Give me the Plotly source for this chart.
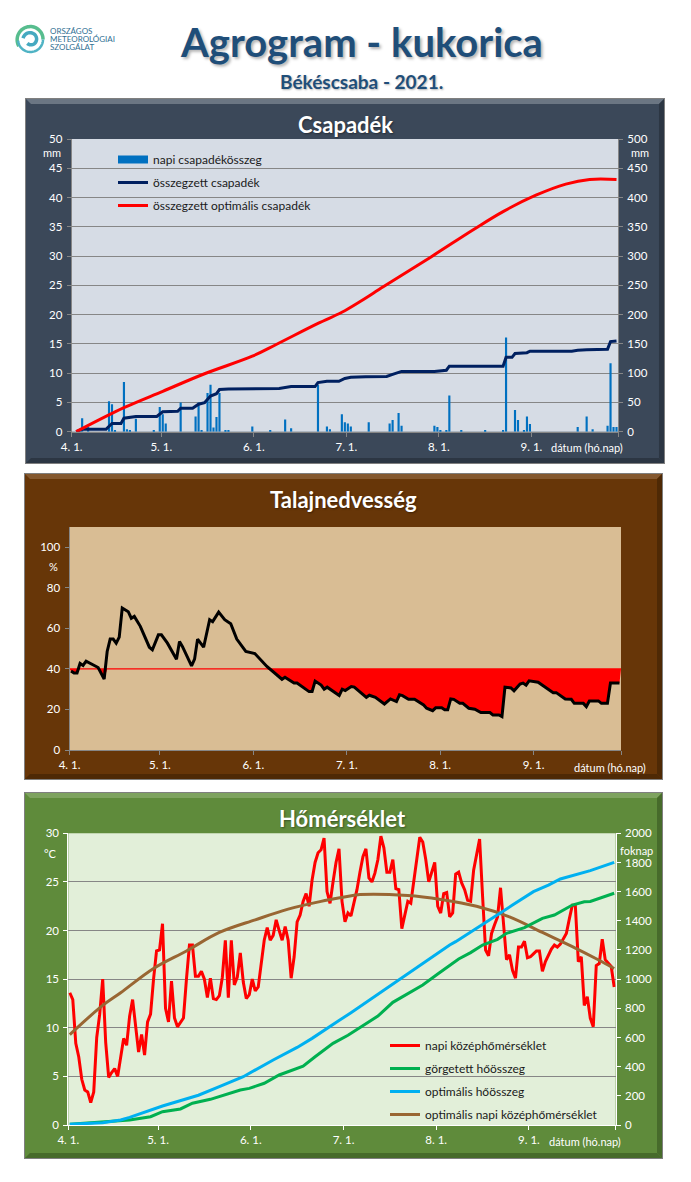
import numpy as np
import plotly.graph_objects as go

W, H = 691, 1182

# csapadek
rain_days = [3, 5, 12, 13, 14, 17, 18, 19, 21, 27, 29, 30, 31, 36, 41, 42, 43, 45, 46, 47, 48, 49, 51, 52, 60, 66,
             71, 73, 82, 85, 86, 90, 91, 92, 93, 99, 106, 107, 109, 110, 121, 122, 123, 125, 126, 130, 138, 144,
             145, 148, 149, 151, 152, 153, 169, 172, 174, 179, 180, 181, 182]
rain_vals = [2.3, 0.8, 5.2, 4.7, 0.2, 8.5, 0.4, 0.2, 2.2, 0.2, 4.2, 3.0, 1.4, 5.0, 2.6, 5.0, 0.2, 6.6, 8.0, 0.7, 2.5, 6.6, 0.2, 0.2, 0.9, 0.2,
             2.1, 0.6, 8.0, 0.9, 0.4, 3.0, 1.6, 1.4, 0.9, 1.6, 1.4, 2.0, 3.2, 1.0, 1.0, 0.8, 0.2, 0.2, 6.2, 0.2, 0.2, 0.2,
             16.1, 3.7, 2.0, 0.2, 2.6, 1.3, 0.8, 2.6, 0.4, 1.0, 11.7, 0.8, 0.8]
sum_days = [1, 3, 11, 13, 16, 17, 21, 28, 30, 35, 36, 40, 42, 44, 46, 48, 49, 52, 69, 73, 81, 82, 85, 89, 91, 93,
            98, 105, 107, 110, 121, 125, 126, 144, 145, 147, 148, 152, 153, 167, 169, 172, 179, 180, 182]
sum_vals = [0, 4, 4, 14, 14, 23, 26, 26, 34, 35, 40, 40, 47, 49.5, 61, 65, 72, 73, 74, 77, 77, 84, 86, 86, 91, 93,
            94, 94.5, 98, 103, 103, 105, 112, 112, 127, 127, 133.5, 135, 137.5, 137.5, 139, 140, 141, 154, 155]
opt_days = [1, 17, 30, 44, 60, 68, 82, 90, 96, 104, 120, 134, 144, 155, 165, 173, 182]
opt_vals = [0, 41, 69, 99, 129, 149, 185, 204, 222, 248, 299, 345, 376, 404, 423, 431, 431]

# talajnedvesseg
soil_days = [0, 1, 2, 3, 4, 5, 9, 11, 12, 13, 14, 15, 16, 17, 19, 20, 21, 23, 26, 27, 29, 30, 32, 35, 36, 37, 40, 41, 42, 44,
             46, 47, 49, 51, 53, 55, 58, 61, 65, 67, 70, 71, 74, 75, 79, 80, 81, 83, 84, 85, 89, 90, 91, 93, 94, 98, 99,
             101, 104, 106, 108, 109, 110, 112, 114, 117, 118, 120, 121, 123, 124, 125, 126, 127, 129, 130, 132, 134,
             136, 139, 140, 142, 143, 144, 146, 147, 149, 150, 151, 152, 155, 160, 161, 164, 166, 167, 170, 171, 172,
             175, 176, 178, 179, 182]
soil_vals = [39, 38, 38, 42.7, 41.7, 43.8, 40.7, 35, 48.6, 54.7, 54.7, 52.7, 55.7, 70, 68.2, 65, 65.9, 61, 50.7, 49.4, 56.8, 56.8, 52.7, 44.8, 53.5, 51, 41.5, 44.8, 54.7, 50.7,
             64.3, 63.3, 68, 64.3, 62.3, 54.7, 48.6, 47.6, 41.2, 38.6, 34.9, 35.9, 33, 33, 28.8, 28.8, 34, 32, 30, 31, 26.9, 30, 29.3, 31.3, 31, 26, 27,
             26, 22.7, 25.2, 23.9, 27.2, 26.8, 25, 25, 22.2, 20.6, 19.4, 20.8, 20.8, 19.8, 19.8, 25.2, 25, 23, 23, 20.6, 20.1,
             18.5, 18.5, 17.3, 17.3, 16.5, 31, 30.6, 29.2, 32.5, 33, 32, 34.1, 33.4, 28.3, 28.3, 25.2, 25, 23, 23, 21.4, 24.2,
             24.2, 23, 23, 33, 33]
soil_limit = 40

# homerseklet, napi ertekek
temp_vals = [13.6, 12.9, 8.4, 7.0, 4.7, 3.6, 3.4, 2.3, 3.4, 9.0,
             11.4, 15.0, 8.5, 4.9, 5.4, 5.8, 5.0, 7.0, 8.9, 8.2,
             11.2, 12.9, 10.0, 7.5, 9.3, 7.2, 10.6, 11.4, 15.0, 17.9,
             18.0, 20.7, 12.0, 10.6, 14.8, 11.0, 10.1, 10.5, 11.0, 15.0,
             18.5, 18.5, 15.3, 15.3, 15.8, 15.0, 13.1, 15.1, 13.0, 12.9,
             13.3, 15.2, 19.0, 13.1, 19.0, 14.4, 15.2, 17.7, 14.7, 13.0,
             13.4, 15.0, 13.8, 14.2, 16.8, 19.0, 20.3, 19.0, 19.5, 21.1,
             20.0, 19.0, 20.4, 19.0, 15.1, 17.3, 20.9, 21.6, 23.0, 23.8,
             22.5, 25.2, 27.0, 28.0, 28.3, 29.5, 24.0, 22.8, 25.0, 27.0,
             28.4, 23.0, 20.9, 21.8, 21.5, 22.9, 24.2, 26.0, 27.6, 28.4,
             25.4, 25.0, 25.9, 27.3, 29.7, 28.5, 26.0, 26.0, 27.3, 24.3,
             24.2, 20.2, 21.8, 23.0, 22.8, 24.9, 27.5, 29.6, 29.1, 27.3,
             25.0, 26.0, 27.0, 22.5, 21.8, 23.8, 23.9, 21.4, 21.8, 25.8,
             26.0, 24.9, 24.2, 23.1, 23.0, 26.2, 27.9, 29.4, 23.5, 18.0,
             17.4, 19.7, 20.6, 21.4, 24.4, 20.7, 17.0, 17.5, 15.9, 15.1,
             18.3, 18.3, 18.9, 17.2, 17.3, 17.6, 17.9, 17.9, 15.8, 16.8,
             17.4, 18.1, 18.5, 18.3, 18.6, 19.1, 19.7, 21.2, 22.6, 22.6,
             16.8, 17.3, 12.3, 13.2, 11.0, 10.1, 16.4, 16.6, 19.1, 17.0,
             16.6, 16.3, 14.2]
temp_days = list(range(len(temp_vals)))
gdd_days = [0, 9, 17, 20, 27, 31, 37, 41, 47, 52, 57, 60, 65, 70, 78, 82, 88, 93, 103, 108, 111, 118, 123, 130, 134, 138,
            143, 146, 152, 158, 162, 168, 172, 174, 182]
gdd_vals = [5, 16, 27, 34, 57, 91, 110, 149, 176, 206, 240, 251, 286, 343, 404, 468, 560, 615, 747, 841, 875, 960, 1035, 1138, 1182, 1234,
            1273, 1314, 1353, 1417, 1440, 1508, 1531, 1533, 1589]
optgdd_days = [0, 11, 17, 20, 31, 43, 50, 58, 68, 76, 81, 87, 90, 94, 103, 113, 127, 129, 138, 148, 155, 160, 164, 174, 182]
optgdd_vals = [5, 16, 34, 52, 130, 204, 263, 331, 446, 532, 594, 679, 716, 770, 898, 1035, 1234, 1257, 1378, 1508, 1600, 1645, 1687, 1744, 1801]
opttemp_days = [0, 11, 17, 28, 39, 50, 62, 73, 84, 91, 97, 113, 124, 136, 147, 158, 169, 176, 182]
opttemp_vals = [9.3, 12.3, 13.6, 16.1, 17.9, 19.8, 21.1, 22.2, 23.0, 23.4, 23.7, 23.6, 23.2, 22.5, 21.4, 19.8, 18.2, 17.1, 16.1]

month_ticks = [-0.5, 29.5, 60.5, 91.5, 122.5, 153.5, 182.5]
month_labels = ["4. 1.", "5. 1.", "6. 1.", "7. 1.", "8. 1.", "9. 1.", ""]

FONT = "Lato"
DARKBLUE = "#1f4e79"
GRID = "#868686"


def fx(px):
    return px / W


def fy(py):
    return 1 - py / H


shapes = []
annotations = []


def text(s, x, y, size=11, color="white", anchor="center", shadow=None):
    f = dict(family=FONT, size=size, color=color)
    if shadow:
        f["shadow"] = shadow
    annotations.append(dict(text=s, x=fx(x), y=fy(y), xref="paper", yref="paper", showarrow=False,
                            xanchor=anchor, yanchor="middle", font=f))


def rect(x0, y0, x1, y1, fill):
    shapes.append(dict(type="rect", xref="paper", yref="paper", layer="below", x0=fx(x0), x1=fx(x1), y0=fy(y0), y1=fy(y1),
                       fillcolor=fill, line=dict(width=0)))


def poly(pts, fill):
    d = "M " + " L ".join(f"{fx(a):.5f},{fy(b):.5f}" for a, b in pts) + " Z"
    shapes.append(dict(type="path", path=d, xref="paper", yref="paper", layer="below", fillcolor=fill, line=dict(width=0)))


def panel(x0, y0, x1, y1, fill, light, dark):
    # keretezett panel, domboru szeggel
    b = 5
    rect(x0, y0, x1, y1, "#7f7f7f")
    rect(x0 + 1, y0 + 1, x1 - 1, y1 - 1, fill)
    poly([(x0 + 1, y0 + 1), (x1 - 1, y0 + 1), (x1 - 1 - b, y0 + 1 + b), (x0 + 1 + b, y0 + 1 + b)], light)
    poly([(x1 - 1, y0 + 1), (x1 - 1, y1 - 1), (x1 - 1 - b, y1 - 1 - b), (x1 - 1 - b, y0 + 1 + b)], dark)
    poly([(x0 + 1, y1 - 1), (x1 - 1, y1 - 1), (x1 - 1 - b, y1 - 1 - b), (x0 + 1 + b, y1 - 1 - b)], dark)


def spiral(a0, a1, r0, r1, color, width):
    t = np.radians(np.linspace(a0, a1, 40))
    r = np.linspace(r0, r1, 40)
    xs = 30.5 + r * np.cos(t)
    ys = 39.5 + r * np.sin(t)
    d = "M " + " L ".join(f"{fx(a):.5f},{fy(b):.5f}" for a, b in zip(xs, ys))
    shapes.append(dict(type="path", path=d, xref="paper", yref="paper", layer="below",
                       line=dict(color=color, width=width)))


panel(25, 98, 665, 464, "#3b4859", "#6b7683", "#2c3643")
panel(24, 473, 663, 780, "#673608", "#84582f", "#4e2905")
panel(24, 792, 663, 1159, "#5f8b3b", "#7ea35f", "#476b2b")

# plot hatterek
rect(71.7, 139, 618, 431.7, "#d6dce5")
rect(69.5, 527, 621, 750, "#d9bd94")
rect(68.3, 833.3, 615.7, 1125, "#e2efd9")

# logo
spiral(150, 360, 13.5, 12.5, "#57bd8e", 3.5)
spiral(0, 175, 12.5, 12.5, "#4fb3c4", 2.5)
spiral(-170, 130, 7.5, 5, "#45a9c0", 3.5)
text("ORSZÁGOS", 47.5, 31.5, 8, "#2f6f93", "left")
text("METEOROLÓGIAI", 47.5, 39.5, 8, "#2f6f93", "left")
text("SZOLGÁLAT", 47.5, 47.5, 8, "#2f6f93", "left")

text("<b>Agrogram - kukorica</b>", 362, 42, 40, DARKBLUE, shadow="2px 2px 3px rgba(0,0,0,0.3)")
text("<b>Békéscsaba - 2021.</b>", 362, 81, 19, DARKBLUE, shadow="1px 1px 2px rgba(0,0,0,0.3)")

text("<b>Csapadék</b>", 345, 124, 22, shadow="1px 1px 2px rgba(0,0,0,0.4)")
text("mm", 52, 152)
text("mm", 640, 152)
text("dátum (hó.nap)", 587, 447)

text("<b>Talajnedvesség</b>", 343, 499, 22, shadow="1px 1px 2px rgba(0,0,0,0.4)")
text("%", 54, 566)
text("dátum (hó.nap)", 610, 767)

text("<b>Hőmérséklet</b>", 342, 818, 22, shadow="1px 1px 2px rgba(0,0,0,0.4)")
text("°C", 50, 853)
text("foknap", 636, 850)
text("dátum (hó.nap)", 585, 1141)

fig = go.Figure()

# 1. csapadek
fig.add_trace(go.Bar(x=rain_days, y=rain_vals, width=0.72, marker=dict(color="#0070c0", line=dict(width=0)),
                     showlegend=False, xaxis="x", yaxis="y"))
# jelmagyarazat-minta a napi oszlopokhoz
fig.add_trace(go.Scatter(x=[None], y=[None], mode="lines", line=dict(color="#0070c0", width=8),
                         name="napi csapadékösszeg", xaxis="x", yaxis="y", legend="legend", legendgroup="a"))
fig.add_trace(go.Scatter(x=sum_days, y=sum_vals, mode="lines", line=dict(color="#002060", width=3),
                         name="összegzett csapadék", xaxis="x", yaxis="y2", legend="legend", legendgroup="b"))
fig.add_trace(go.Scatter(x=opt_days, y=opt_vals, mode="lines", line=dict(color="#ff0000", width=3, shape="spline"),
                         name="összegzett optimális csapadék", xaxis="x", yaxis="y2", legend="legend", legendgroup="c"))

# 2. talajnedvesseg: a hatarertek alatti resz pirossal kitoltve
soil_clip = [min(v, soil_limit) for v in soil_vals]
fig.add_trace(go.Scatter(x=soil_days, y=soil_clip, mode="lines", line=dict(width=0), showlegend=False,
                         hoverinfo="skip", xaxis="x2", yaxis="y3"))
fig.add_trace(go.Scatter(x=[-0.5, 182.5], y=[soil_limit, soil_limit], mode="lines", fill="tonexty", fillcolor="#ff0000",
                         line=dict(color="#ff0000", width=1.2), showlegend=False, xaxis="x2", yaxis="y3"))
fig.add_trace(go.Scatter(x=soil_days, y=soil_vals, mode="lines", line=dict(color="#000000", width=3),
                         showlegend=False, xaxis="x2", yaxis="y3"))

# 3. homerseklet
fig.add_trace(go.Scatter(x=temp_days, y=temp_vals, mode="lines", line=dict(color="#ff0000", width=3),
                         name="napi középhőmérséklet", xaxis="x3", yaxis="y4", legend="legend2", legendgroup="a"))
fig.add_trace(go.Scatter(x=gdd_days, y=gdd_vals, mode="lines", line=dict(color="#00b050", width=3),
                         name="görgetett hőösszeg", xaxis="x3", yaxis="y5", legend="legend2", legendgroup="b"))
fig.add_trace(go.Scatter(x=optgdd_days, y=optgdd_vals, mode="lines", line=dict(color="#00b0f0", width=3),
                         name="optimális hőösszeg", xaxis="x3", yaxis="y5", legend="legend2", legendgroup="c"))
fig.add_trace(go.Scatter(x=opttemp_days, y=opttemp_vals, mode="lines", line=dict(color="#996633", width=3, shape="spline"),
                         name="optimális napi középhőmérséklet", xaxis="x3", yaxis="y4", legend="legend2", legendgroup="d"))

tickfont = dict(family=FONT, size=11.5, color="white")


def xaxis(x0, x1, anchor, color):
    return dict(domain=[fx(x0), fx(x1)], anchor=anchor, range=[-0.5, 182.5], tickmode="array",
                tickvals=month_ticks, ticktext=month_labels, ticks="outside", ticklen=4, tickcolor=color,
                showline=True, linecolor=color, linewidth=1, showgrid=False, zeroline=False, automargin=False,
                tickfont=tickfont, ticklabelstandoff=0, fixedrange=True)


def yaxis(y0, y1, rng, dtick, anchor, color, side="left", grid=False, overlay=None):
    d = dict(domain=[fy(y1), fy(y0)], anchor=anchor, range=rng, dtick=dtick, side=side, ticks="outside", ticklen=4,
             tickcolor=color, showline=True, linecolor=color, linewidth=1, showgrid=grid, gridcolor=GRID, gridwidth=1,
             zeroline=False, tickfont=tickfont, ticklabelstandoff=2, fixedrange=True, automargin=False)
    if overlay:
        d["overlaying"] = overlay
    return d


fig.update_layout(
    width=W, height=H, margin=dict(l=0, r=0, t=0, b=0, pad=0), autosize=False,
    paper_bgcolor="white", plot_bgcolor="rgba(0,0,0,0)", barmode="overlay", font=dict(family=FONT),
    hovermode=False, shapes=shapes, annotations=annotations,
    xaxis=xaxis(71.7, 618, "y", GRID),
    yaxis=yaxis(139, 431.7, [0, 50], 5, "x", GRID, grid=True),
    yaxis2=yaxis(139, 431.7, [0, 500], 50, "x", GRID, side="right", overlay="y"),
    xaxis2=xaxis(69.5, 621, "y3", GRID),
    yaxis3=yaxis(527, 750, [0, 110], 20, "x2", GRID),
    xaxis3=xaxis(68.3, 615.7, "y4", "white"),
    yaxis4=yaxis(833.3, 1125, [0, 30], 5, "x3", "white", grid=True),
    yaxis5=yaxis(833.3, 1125, [0, 2000], 200, "x3", "white", side="right", overlay="y4"),
    legend=dict(x=fx(113), y=fy(145), xanchor="left", yanchor="top", bgcolor="rgba(0,0,0,0)", tracegroupgap=4,
                itemwidth=30, font=dict(family=FONT, size=12, color="#1a1a1a")),
    legend2=dict(x=fx(385), y=fy(1031), xanchor="left", yanchor="top", bgcolor="rgba(0,0,0,0)", tracegroupgap=4,
                 itemwidth=30, font=dict(family=FONT, size=12, color="#1a1a1a")),
)

fig.write_html("out.html", config={"displayModeBar": False},
               post_script="document.body.style.margin='0';document.body.style.overflow='hidden';")
